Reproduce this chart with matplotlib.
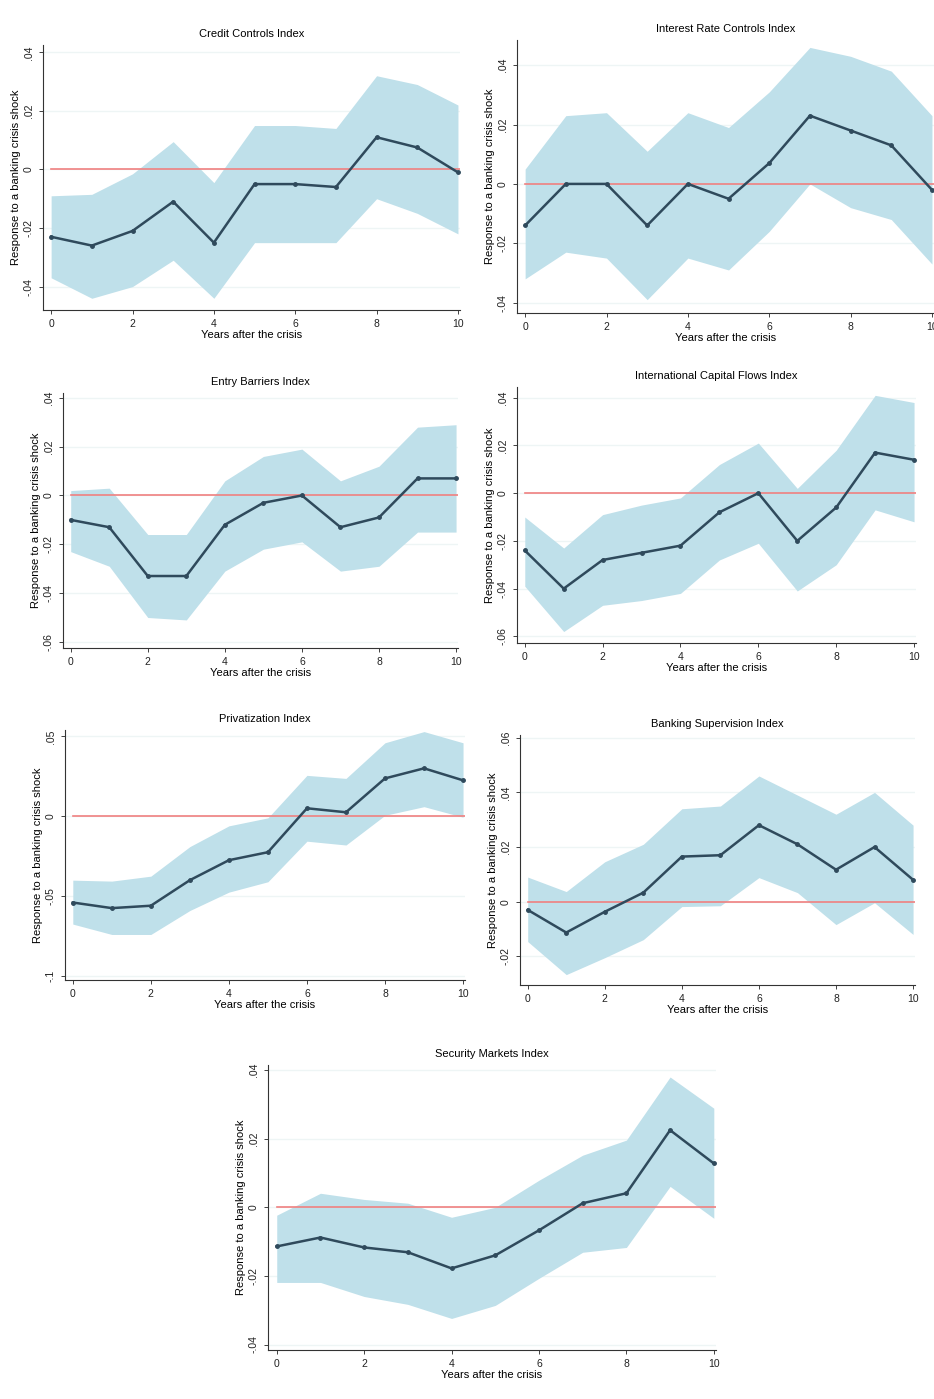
import matplotlib.pyplot as plt
import numpy as np

plt.rcParams["font.family"] = ["Liberation Sans", "DejaVu Sans"]

years = np.arange(11)

credit_mid = [-.023, -.026, -.021, -.011, -.025, -.005, -.005, -.006, .011, .0075, -.001]
credit_hi = [-.009, -.0085, -.0015, .0095, -.0045, .015, .015, .014, .032, .029, .022]
credit_lo = [-.037, -.044, -.040, -.031, -.044, -.025, -.025, -.025, -.010, -.015, -.022]

interest_mid = [-.014, 0, 0, -.014, 0, -.005, .007, .023, .018, .013, -.002]
interest_hi = [.005, .023, .024, .011, .024, .019, .031, .046, .043, .038, .023]
interest_lo = [-.032, -.023, -.025, -.039, -.025, -.029, -.016, 0, -.008, -.012, -.027]

entry_mid = [-.010, -.013, -.033, -.033, -.012, -.003, 0, -.013, -.009, .007, .007]
entry_hi = [.002, .003, -.016, -.016, .006, .016, .019, .006, .012, .028, .029]
entry_lo = [-.023, -.029, -.050, -.051, -.031, -.022, -.019, -.031, -.029, -.015, -.015]

intl_mid = [-.024, -.040, -.028, -.025, -.022, -.008, 0, -.020, -.006, .017, .014]
intl_hi = [-.010, -.023, -.009, -.005, -.002, .012, .021, .002, .018, .041, .038]
intl_lo = [-.039, -.058, -.047, -.045, -.042, -.028, -.021, -.041, -.030, -.007, -.012]

priv_mid = [-.054, -.0575, -.056, -.040, -.0275, -.0225, .005, .0025, .0237, .030, .0225]
priv_hi = [-.040, -.0406, -.0375, -.019, -.006, -.001, .0256, .0237, .046, .053, .046]
priv_lo = [-.0675, -.074, -.074, -.059, -.0475, -.041, -.0156, -.018, .0006, .006, -.0006]

super_mid = [-.003, -.0113, -.0037, .0033, .0165, .017, .028, .021, .0117, .020, .008]
super_hi = [.009, .0037, .0146, .021, .034, .035, .046, .039, .032, .040, .028]
super_lo = [-.0146, -.0267, -.0205, -.0139, -.0018, -.0015, .0088, .0033, -.0084, -.0004, -.012]

sec_mid = [-.0114, -.0088, -.0117, -.0131, -.0178, -.014, -.0067, .0012, .0041, .0225, .0128]
sec_hi = [-.0023, .0041, .0023, .0012, -.0029, 0, .0079, .0152, .0196, .038, .0289]
sec_lo = [-.0219, -.0219, -.026, -.0283, -.0324, -.0286, -.0207, -.0131, -.0117, .0061, -.0032]

W, H = 934, 1399
# (title, mid, hi, lo, pixel box left, top, right, bottom, ylim, yticks, ticklabels)
panels = [
    ("Credit Controls Index", credit_mid, credit_hi, credit_lo, (43, 45, 460, 310),
     (-.048, .0425), [-.04, -.02, 0, .02, .04], ["-.04", "-.02", "0", ".02", ".04"]),
    ("Interest Rate Controls Index", interest_mid, interest_hi, interest_lo, (517, 40, 934, 313),
     (-.0435, .0485), [-.04, -.02, 0, .02, .04], ["-.04", "-.02", "0", ".02", ".04"]),
    ("Entry Barriers Index", entry_mid, entry_hi, entry_lo, (63, 393, 458, 648),
     (-.0625, .042), [-.06, -.04, -.02, 0, .02, .04], ["-.06", "-.04", "-.02", "0", ".02", ".04"]),
    ("International Capital Flows Index", intl_mid, intl_hi, intl_lo, (517, 387, 916, 643),
     (-.0628, .0445), [-.06, -.04, -.02, 0, .02, .04], ["-.06", "-.04", "-.02", "0", ".02", ".04"]),
    ("Privatization Index", priv_mid, priv_hi, priv_lo, (65, 730, 465, 980),
     (-.1025, .054), [-.1, -.05, 0, .05], ["-.1", "-.05", "0", ".05"]),
    ("Banking Supervision Index", super_mid, super_hi, super_lo, (520, 735, 915, 985),
     (-.0305, .061), [-.02, 0, .02, .04, .06], ["-.02", "0", ".02", ".04", ".06"]),
    ("Security Markets Index", sec_mid, sec_hi, sec_lo, (268, 1065, 716, 1350),
     (-.0416, .0415), [-.04, -.02, 0, .02, .04], ["-.04", "-.02", "0", ".02", ".04"]),
]

fig = plt.figure(figsize=(W / 100, H / 100), dpi=100)
for title, mid, hi, lo, (l, t, r, b), ylim, yt, ytl in panels:
    ax = fig.add_axes([l / W, 1 - b / H, (r - l) / W, (b - t) / H])
    for y in yt:
        ax.axhline(y, color="#eef5f5", lw=1, zorder=0)
    ax.fill_between(years, lo, hi, color="#bfe0ea", lw=0, zorder=1)
    ax.axhline(0, color="#f08080", lw=1.2, xmin=0.02, zorder=2)
    ax.plot(years, mid, color="#2f4a5c", lw=1.8, marker="o", ms=2.5, zorder=3)
    ax.set_xlim(-0.2, 10.05)
    ax.set_ylim(*ylim)
    ax.set_xticks([0, 2, 4, 6, 8, 10])
    ax.set_yticks(yt)
    ax.set_yticklabels(ytl, rotation=90, va="center")
    ax.tick_params(labelsize=7.5, length=3, width=0.6, colors="#222222")
    for s in ("top", "right"):
        ax.spines[s].set_visible(False)
    for s in ("left", "bottom"):
        ax.spines[s].set_linewidth(0.8)
        ax.spines[s].set_color("#333333")
    ax.set_title(title, fontsize=8, pad=6)
    ax.set_xlabel("Years after the crisis", fontsize=8, labelpad=1)
    ax.set_ylabel("Response to a banking crisis shock", fontsize=8, labelpad=2)

fig.savefig("out.png", dpi=100)
